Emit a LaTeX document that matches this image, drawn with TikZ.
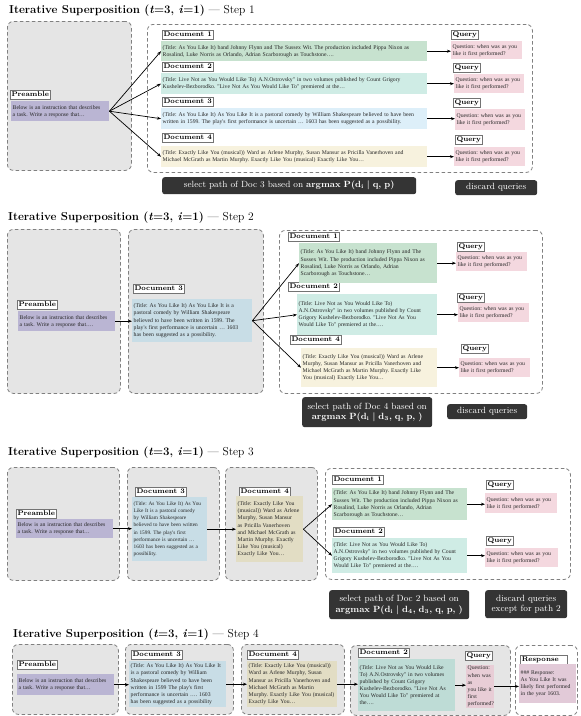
\documentclass[tikz,border=0pt]{standalone}
\usepackage{fontspec}
\newfontfamily\boxfont{Liberation Serif}
\usetikzlibrary{arrows.meta}
\definecolor{panelgray}{RGB}{229,229,229}
\definecolor{panelline}{RGB}{128,128,128}
\definecolor{prec}{RGB}{186,181,211}
\definecolor{dA}{RGB}{199,226,207}
\definecolor{dB}{RGB}{207,236,229}
\definecolor{dC}{RGB}{221,239,249}
\definecolor{dD}{RGB}{247,242,222}
\definecolor{qc}{RGB}{244,216,223}
\definecolor{dCg}{RGB}{200,221,230}
\definecolor{dDg}{RGB}{226,221,196}
\definecolor{dBg}{RGB}{190,220,214}
\definecolor{qg}{RGB}{232,205,214}
\definecolor{respc}{RGB}{226,202,216}
\definecolor{darkc}{RGB}{52,52,52}
\newcommand{\boxat}[7]{%
  \pgfmathsetmacro\bxw{#5-#3}\pgfmathsetmacro\bxh{#6-#4}\pgfmathsetmacro\bxt{#5-#3-3}%
  \node[#2, anchor=north west, minimum width=\bxw pt, minimum height=\bxh pt, text width=\bxt pt] (#1) at (#3,#4) {#7};}
\tikzset{
  panel/.style={draw=panelline, dash pattern=on 3.5pt off 2.5pt, line width=0.8pt, rounded corners=6pt, fill=panelgray, inner sep=0pt},
  wpanel/.style={panel, fill=white},
  txt/.style={font=\boxfont\fontsize{5.7}{7.1}\selectfont, align=left, inner xsep=1.5pt, inner ysep=1pt, text=black!85,
    execute at begin node={\frenchspacing\hyphenpenalty=10000\exhyphenpenalty=10000}},
  smalltxt/.style={txt, font=\boxfont\fontsize{5.3}{7.1}\selectfont},
  lbl/.style={draw=black!55, fill=white, line width=0.5pt, font=\fontsize{7}{8}\selectfont\bfseries, inner sep=1.3pt, text height=5.2pt, text depth=1.4pt, anchor=north west},
  dlab/.style={fill=darkc, rounded corners=2.5pt, text=white, font=\fontsize{9}{10.5}\selectfont, align=center, inner xsep=1.5pt, inner ysep=0pt},
  arr/.style={-{Stealth[length=4pt,width=3pt]}, line width=0.7pt},
  ttl/.style={font=\fontsize{11.5}{13}\selectfont, anchor=base west, inner sep=0pt},
}
\newcommand{\ttltext}[1]{\textbf{Iterative Superposition (\textit{t}=3, \textit{i}=1)} --- Step #1}
\begin{document}
\begin{tikzpicture}[x=1pt,y=-1pt]
\useasboundingbox[fill=white] (0,0) rectangle (581,716);

% ================= STEP 1 =================
\node[ttl] (t1) at (9,13) {\ttltext{1}};
\boxat{s1pA}{panel}{7}{21}{131}{170}{}
\boxat{s1pB}{wpanel}{147}{24}{532}{172}{}
\node[lbl] (s1preL) at (10,90) {Preamble};
\boxat{s1pre}{txt,fill=prec}{11}{101}{109}{121}{Below is an instruction that describes\\ a task. Write a response that\ldots}
\node[lbl] (s1aL) at (162,30) {Document 1};
\node[lbl] (s1bL) at (162,62) {Document 2};
\node[lbl] (s1cL) at (162,97) {Document 3};
\node[lbl] (s1dL) at (162,133) {Document 4};
\boxat{s1a}{txt,fill=dA}{161}{41}{427}{61}{(Title: As You Like It) band Johnny Flynn and The Sussex Wit. The production included Pippa Nixon as\\ Rosalind, Luke Norris as Orlando, Adrian Scarborough as Touchstone\ldots.}
\boxat{s1b}{txt,fill=dB}{161}{73}{427}{94}{(Title: Live Not as You Would Like To) A.N.Ostrovsky" in two volumes published by Count Grigory\\ Kushelev-Bezborodko. "Live Not As You Would Like To" premiered at the\ldots}
\boxat{s1c}{txt,fill=dC}{161}{108}{427}{129}{(Title: As You Like It) As You Like It is a pastoral comedy by William Shakespeare believed to have been\\ written in 1599. The play's first performance is uncertain \ldots\ 1603 has been suggested as a possibility.}
\boxat{s1d}{txt,fill=dD}{161}{146}{427}{167}{(Title: Exactly Like You (musical)) Ward as Arlene Murphy, Susan Mansur as Pricilla Vanerhoven and\\ Michael McGrath as Martin Murphy. Exactly Like You (musical) Exactly Like You\ldots}
\node[lbl] (s1qaL) at (451,30) {Query};
\node[lbl] (s1qbL) at (453,63) {Query};
\node[lbl] (s1qcL) at (453,98) {Query};
\node[lbl] (s1qdL) at (455,135) {Query};
\boxat{s1qa}{txt,fill=qc}{451}{41}{522}{59}{Question: when was as you\\ like it first performed?}
\boxat{s1qb}{txt,fill=qc}{454}{74}{524}{93}{Question: when was as you\\ like it first performed?}
\boxat{s1qc}{txt,fill=qc}{455}{109}{525}{130}{Question: when was as you\\ like it first performed?}
\boxat{s1qd}{txt,fill=qc}{454}{147}{525}{166}{Question: when was as you\\ like it first performed?}
\foreach \d in {s1a,s1b,s1c,s1d} \draw[arr] (s1pre.east) -- (\d.west);
\draw[arr] (s1a.east) -- (s1a.east -| s1qa.west);
\draw[arr] (s1b.east) -- (s1b.east -| s1qb.west);
\draw[arr] (s1c.east) -- (s1c.east -| s1qc.west);
\draw[arr] (s1d.east) -- (s1d.east -| s1qd.west);
\boxat{s1sel}{dlab}{162}{177}{416}{194}{select path of Doc 3 based on \textbf{argmax P(d\textsubscript{i} | q, p)}}
\boxat{s1dis}{dlab}{455}{180}{537}{195}{discard queries}

% ================= STEP 2 =================
\node[ttl] (t2) at (8,220) {\ttltext{2}};
\boxat{s2pA}{panel}{7}{229}{120}{393}{}
\boxat{s2pB}{panel}{128}{229}{263}{393}{}
\boxat{s2pC}{wpanel}{279}{230}{542}{393}{}
\node[lbl] (s2preL) at (17,300) {Preamble};
\boxat{s2pre}{txt,fill=prec}{18}{311}{115}{331}{Below is an instruction that describes\\ a task. Write a response that\ldots.}
\node[lbl] (s2cL) at (133,284) {Document 3};
\boxat{s2c}{txt,fill=dCg}{132}{299}{252}{342}{(Title: As You Like It) As You Like It is a\\ pastoral comedy by William Shakespeare\\ believed to have been written in 1599. The\\ play's first performance is uncertain \ldots\ 1603\\ has been suggested as a possibility.}
\draw[arr] (s2pre.east) -- (s2pre.east -| s2c.west);
\node[lbl] (s2aL) at (288,232) {Document 1};
\node[lbl] (s2bL) at (288,282) {Document 2};
\node[lbl] (s2dL) at (290,335) {Document 4};
\boxat{s2a}{txt,fill=dA}{299}{243}{437}{283}{(Title: As You Like It) band Johnny Flynn and The\\ Sussex Wit. The production included Pippa Nixon as\\ Rosalind, Luke Norris as Orlando, Adrian\\ Scarborough as Touchstone\ldots}
\boxat{s2b}{txt,fill=dB}{297}{294}{437}{335}{(Title: Live Not as You Would Like To)\\ A.N.Ostrovsky" in two volumes published by Count\\ Grigory Kushelev-Bezborodko. "Live Not As You\\ Would Like To" premiered at the\ldots.}
\boxat{s2d}{txt,fill=dD}{301}{348}{437}{387}{(Title: Exactly Like You (musical)) Ward as Arlene\\ Murphy, Susan Mansur as Pricilla Vanerhoven and\\ Michael McGrath as Martin Murphy. Exactly Like\\ You (musical) Exactly Like You\ldots}
\foreach \d in {s2a,s2b,s2d} \draw[arr] (s2c.east) -- (\d.west);
\node[lbl] (s2qaL) at (457,242) {Query};
\node[lbl] (s2qbL) at (457,293) {Query};
\node[lbl] (s2qdL) at (461,344) {Query};
\boxat{s2qa}{txt,fill=qc}{456}{252}{527}{271}{Question: when was as you\\ like it first performed?}
\boxat{s2qb}{txt,fill=qc}{458}{303}{529}{322}{Question: when was as you\\ like it first performed?}
\boxat{s2qd}{txt,fill=qc}{459}{358}{530}{377}{Question: when was as you\\ like it first performed?}
\draw[arr] (s2a.east) -- (s2a.east -| s2qa.west);
\draw[arr] (s2b.east) -- (s2b.east -| s2qb.west);
\draw[arr] (s2d.east) -- (s2d.east -| s2qd.west);
\boxat{s2sel}{dlab}{302}{397}{432}{427}{select path of Doc 4 based on\\ \textbf{argmax P(d\textsubscript{i} | d\textsubscript{3}, q, p, )}}
\boxat{s2dis}{dlab}{447}{404}{527}{419}{discard queries}

% ================= STEP 3 =================
\node[ttl] (t3) at (8,455) {\ttltext{3}};
\boxat{s3pA}{panel}{7}{467}{119}{580}{}
\boxat{s3pB}{panel}{127}{467}{219}{580}{}
\boxat{s3pC}{panel}{225}{467}{317}{580}{}
\boxat{s3pD}{wpanel}{325}{468}{570}{579}{}
\node[lbl] (s3preL) at (16,509) {Preamble};
\boxat{s3pre}{txt,fill=prec}{16}{519}{113}{538}{Below is an instruction that describes\\ a task. Write a response that\ldots}
\node[lbl] (s3cL) at (135,487) {Document 3};
\boxat{s3c}{smalltxt,fill=dCg}{132}{497}{207}{561}{(Title: As You Like It) As You\\ Like It is a pastoral comedy\\ by William Shakespeare\\ believed to have been written\\ in 1599. The play's first\\ performance is uncertain \ldots\\ 1603 has been suggested as a\\ possibility.}
\node[lbl] (s3dL) at (239,487) {Document 4};
\boxat{s3d}{txt,fill=dDg}{236}{496}{303}{562}{(Title: Exactly Like You\\ (musical)) Ward as Arlene\\ Murphy, Susan Mansur\\ as Pricilla Vanerhoven\\ and Michael McGrath as\\ Martin Murphy. Exactly\\ Like You (musical)\\ Exactly Like You\ldots}
\draw[arr] (s3pre.east) -- (s3pre.east -| s3c.west);
\draw[arr] (s3c.east) -- (s3c.east -| s3d.west);
\node[lbl] (s3aL) at (332,475) {Document 1};
\node[lbl] (s3bL) at (333,527) {Document 2};
\boxat{s3a}{txt,fill=dA}{332}{488}{467}{520}{(Title: As You Like It) band Johnny Flynn and The\\ Sussex Wit. The production included Pippa Nixon as\\ Rosalind, Luke Norris as Orlando, Adrian\\ Scarborough as Touchstone\ldots}
\boxat{s3b}{txt,fill=dB}{332}{538}{467}{573}{(Title: Live Not as You Would Like To)\\ A.N.Ostrovsky" in two volumes published by Count\\ Grigory Kushelev-Bezborodko. "Live Not As You\\ Would Like To" premiered at the\ldots.}
\foreach \d in {s3a,s3b} \draw[arr] (s3d.east) -- (\d.west);
\node[lbl] (s3qaL) at (486,480) {Query};
\node[lbl] (s3qbL) at (486,536) {Query};
\boxat{s3qa}{txt,fill=qc}{485}{493}{557}{513}{Question: when was as you\\ like it first performed?}
\boxat{s3qb}{txt,fill=qc}{485}{548}{558}{567}{Question: when was as you\\ like it first performed?}
\draw[arr] (s3a.east) -- (s3a.east -| s3qa.west);
\draw[arr] (s3b.east) -- (s3b.east -| s3qb.west);
\boxat{s3sel}{dlab}{329}{590}{469}{619}{select path of Doc 2 based on\\ \textbf{argmax P(d\textsubscript{i} | d\textsubscript{4}, d\textsubscript{3}, q, p, )}}
\boxat{s3dis}{dlab}{485}{590}{567}{618}{discard queries\\ except for path 2}

% ================= STEP 4 =================
\node[ttl] (t4) at (13,637) {\ttltext{4}};
\boxat{s4pA}{panel}{12}{644}{118}{714}{}
\boxat{s4pB}{panel}{125}{644}{233}{714}{}
\boxat{s4pC}{panel}{241}{644}{344}{714}{}
\boxat{s4pD}{panel}{350}{645}{510}{715}{}
\boxat{s4pE}{wpanel}{515}{645}{577}{715}{}
\node[lbl] (s4preL) at (17,660) {Preamble};
\boxat{s4pre}{txt,fill=prec}{17}{674}{114}{695}{Below is an instruction that describes\\ a task. Write a response that\ldots}
\node[lbl] (s4cL) at (131,650) {Document 3};
\boxat{s4c}{txt,fill=dCg}{129}{661}{226}{707}{(Title: As You Like It) As You Like It\\ is a pastoral comedy by William\\ Shakespeare believed to have been\\ written in 1599 The play's first\\ performance is uncertain \ldots. 1603\\ has been suggested as a possibility}
\node[lbl] (s4dL) at (247,650) {Document 4};
\boxat{s4d}{txt,fill=dDg}{247}{661}{337}{707}{(Title: Exactly Like You (musical))\\ Ward as Arlene Murphy, Susan\\ Mansur as Pricilla Vanerhoven and\\ Michael McGrath as Martin\\ Murphy. Exactly Like You (musical)\\ Exactly Like You\ldots}
\node[lbl] (s4bL) at (358,648) {Document 2};
\boxat{s4b}{txt,fill=dBg}{358}{659}{455}{711}{(Title: Live Not as You Would Like\\ To) A.N.Ostrovsky" in two volumes\\ published by Count Grigory\\ Kushelev-Bezborodko. "Live Not As\\ You Would Like To" premiered at\\ the\ldots.}
\node[lbl] (s4qL) at (465,651) {Query};
\boxat{s4q}{txt,fill=qg}{466}{665}{494}{704}{Question:\\ when was as\\ you like it\\ first\\ performed?}
\node[lbl, minimum width=47pt, align=left, text width=44pt] (s4rL) at (520,655) {Response};
\boxat{s4r}{txt,fill=respc}{519}{664}{576}{703}{\#\#\# Response:\\ As You Like It was\\ likely first performed\\ in the year 1603.}
\draw[arr] (s4pre.east) -- (s4pre.east -| s4c.west);
\draw[arr] (s4c.east) -- (s4c.east -| s4d.west);
\draw[arr] (s4d.east) -- (s4d.east -| s4b.west);
\draw[arr] (s4b.east) -- (s4b.east -| s4q.west);
\draw[arr] (s4q.east) -- (s4q.east -| s4r.west);
\end{tikzpicture}
\end{document}
